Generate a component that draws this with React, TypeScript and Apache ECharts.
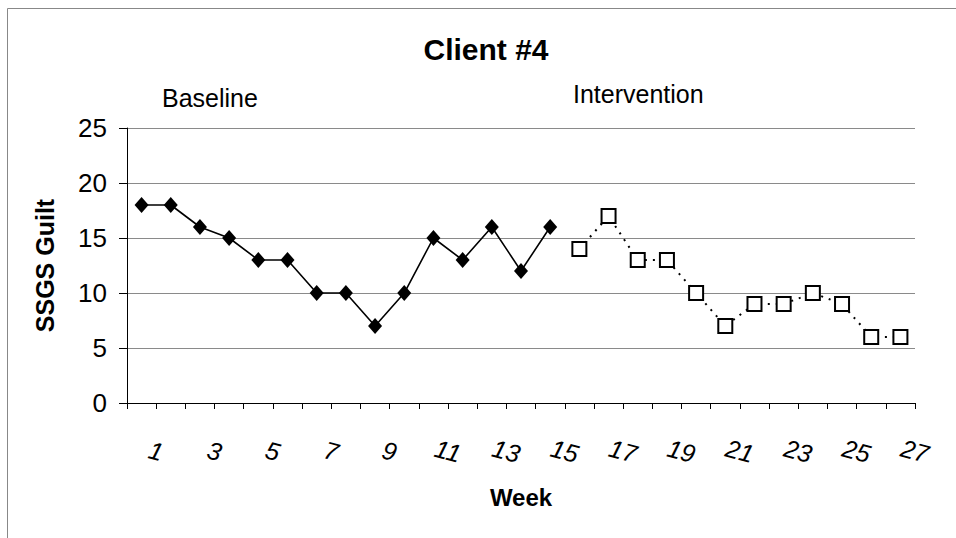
import React, { useEffect, useRef } from "react";
import * as echarts from "echarts";

const weeks = ["1","2","3","4","5","6","7","8","9","10","11","12","13","14","15","16","17","18","19","20","21","22","23","24","25","26","27"];
const baseline = [18, 18, 16, 15, 13, 13, 10, 10, 7, 10, 15, 13, 16, 12, 16, null, null, null, null, null, null, null, null, null, null, null, null];
const intervention = [null, null, null, null, null, null, null, null, null, null, null, null, null, null, null, 14, 17, 13, 13, 10, 7, 9, 9, 10, 9, 6, 6];
const yTicks = { min: 0, max: 25, interval: 5 };

export default function App() {
  const ref = useRef<HTMLDivElement>(null);
  useEffect(() => {
    const chart = echarts.init(ref.current!, null, { renderer: "svg" });
    const font = "Liberation Sans, Arial, sans-serif";
    chart.setOption({
      animation: false,
      backgroundColor: "#fff",
      textStyle: { fontFamily: font, color: "#000" },
      graphic: [
        { type: "rect", shape: { x: 7.5, y: 8.5, width: 1000, height: 1000 }, style: { fill: "none", stroke: "#888", lineWidth: 1 }, silent: true, z: -1 },
        { type: "text", x: 486, y: 49, style: { text: "Client #4", fontSize: 30, fontWeight: "bold", fill: "#000", fontFamily: font, align: "center", verticalAlign: "middle" } },
        { type: "text", x: 162, y: 98, style: { text: "Baseline", fontSize: 25, fill: "#000", fontFamily: font, align: "left", verticalAlign: "middle" } },
        { type: "text", x: 573, y: 94, style: { text: "Intervention", fontSize: 25, fill: "#000", fontFamily: font, align: "left", verticalAlign: "middle" } },
      ],
      grid: { left: 127, right: 41, top: 128, bottom: 135, containLabel: false },
      xAxis: {
        type: "category",
        data: weeks,
        boundaryGap: true,
        name: "Week",
        nameLocation: "middle",
        nameGap: 94,
        nameTextStyle: { fontSize: 24, fontWeight: "bold", color: "#000", fontFamily: font, verticalAlign: "middle" },
        axisLine: { lineStyle: { color: "#000", width: 1 } },
        axisTick: { show: true, interval: 0, length: 6, lineStyle: { color: "#000" } },
        axisLabel: {
          interval: 1,
          rotate: -15,
          align: "center",
          verticalAlign: "middle",
          margin: 44,
          padding: [0, 0, 0, 30],
          fontSize: 25,
          fontStyle: "italic",
          color: "#000",
          fontFamily: font,
        },
        splitLine: { show: false },
      },
      yAxis: {
        type: "value",
        min: yTicks.min,
        max: yTicks.max,
        interval: yTicks.interval,
        name: "SSGS Guilt",
        nameLocation: "middle",
        nameGap: 70,
        nameTextStyle: { fontSize: 25, fontWeight: "bold", color: "#000", fontFamily: font },
        axisLine: { show: true, lineStyle: { color: "#000", width: 1 } },
        axisTick: { show: true, length: 8, lineStyle: { color: "#000" } },
        axisLabel: { fontSize: 26, color: "#000", margin: 20, fontFamily: font },
        splitLine: { show: true, lineStyle: { color: "#8a8a8a", width: 1 } },
      },
      series: [
        {
          type: "line",
          data: baseline,
          connectNulls: false,
          symbol: "diamond",
          symbolSize: [14, 16],
          itemStyle: { color: "#000" },
          lineStyle: { color: "#000", width: 1.6 },
        },
        {
          type: "line",
          data: intervention,
          connectNulls: false,
          symbol: "rect",
          symbolSize: 14,
          itemStyle: { color: "#fff", borderColor: "#000", borderWidth: 2 },
          lineStyle: { color: "#000", width: 2, type: [2, 6] },
        },
      ],
    });
    return () => chart.dispose();
  }, []);
  return <div ref={ref} style={{ position: "absolute", left: 0, top: 0, width: 956, height: 538 }} />;
}
